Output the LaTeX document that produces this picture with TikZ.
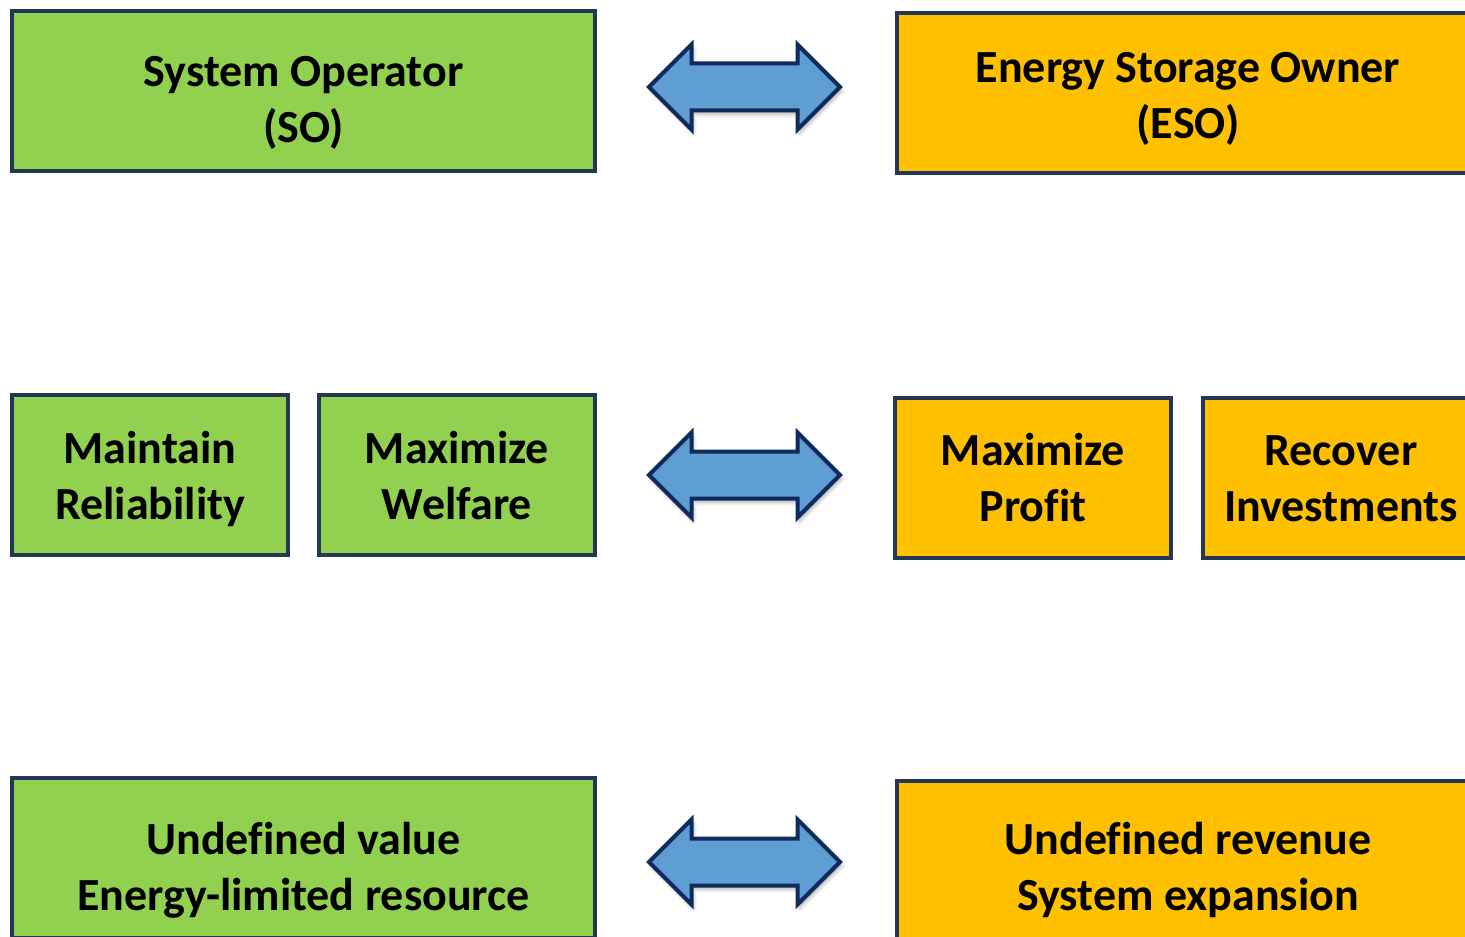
\documentclass[tikz,border=0pt]{standalone}
\usepackage{fontspec}
\setmainfont[Ligatures=NoCommon]{Carlito}
\usetikzlibrary{shapes.arrows,shadows.blur}

\definecolor{sogreen}{HTML}{92D050}
\definecolor{esogold}{HTML}{FFC000}
\definecolor{boxline}{HTML}{263657}
\definecolor{arrowblue}{HTML}{5F9ED3}
\definecolor{arrowline}{HTML}{0F2A5C}

\tikzset{
  roleblock/.style={draw=boxline, line width=2pt, inner sep=0pt, align=center,
    minimum height=80pt, font=\fontsize{23}{28}\selectfont\bfseries},
  wideblock/.style={roleblock, minimum width=291.5pt},
  halfblock/.style={roleblock, minimum width=138pt},
  % last baseline sits #1/2 below the middle of the box
  textsink/.style={text depth=0pt, text height=#1},
  tradeoff/.style={double arrow, draw=arrowline, fill=arrowblue, line width=2pt,
    inner xsep=0pt, inner ysep=10.75pt, minimum height=95.5pt,
    double arrow head extend=9.5pt,
    blur shadow={shadow xshift=1pt, shadow yshift=-2pt, shadow blur steps=6, shadow opacity=30}}
}

\begin{document}
\begin{tikzpicture}[x=0.5pt, y=-0.5pt]
\useasboundingbox (0,0) rectangle (1465,936);
\clip (0,0) rectangle (1465,936);

% top row: the two parties
\node[wideblock, fill=sogreen, textsink=52pt] (so) at (303.5,91) {System Operator\\(SO)};
\node[wideblock, fill=esogold, textsink=45pt] (eso) at (1188,93.5) {Energy Storage Owner\\(ESO)};
\node[tradeoff] (a1) at (744.5,87) {};

% middle row: objectives
\node[halfblock, fill=sogreen, textsink=44.5pt] (rel) at (150,474.5) {Maintain\\Reliability};
\node[halfblock, fill=sogreen, textsink=44.5pt] (wel) at (457,474.5) {Maximize\\Welfare};
\node[halfblock, fill=esogold, textsink=44pt] (prof) at (1033,477.5) {Maximize\\Profit};
\node[halfblock, fill=esogold, textsink=43.5pt] (inv) at (1341,477.5) {Recover\\Investments};
\node[tradeoff] (a2) at (744.5,475) {};

% bottom row: open issues
\node[wideblock, fill=sogreen, textsink=52.5pt] (val) at (303.5,858) {Undefined value\\Energy-limited resource};
\node[wideblock, fill=esogold, textsink=49pt] (rev) at (1188,861) {Undefined revenue\\System expansion};
\node[tradeoff] (a3) at (744.5,862) {};

\end{tikzpicture}
\end{document}
